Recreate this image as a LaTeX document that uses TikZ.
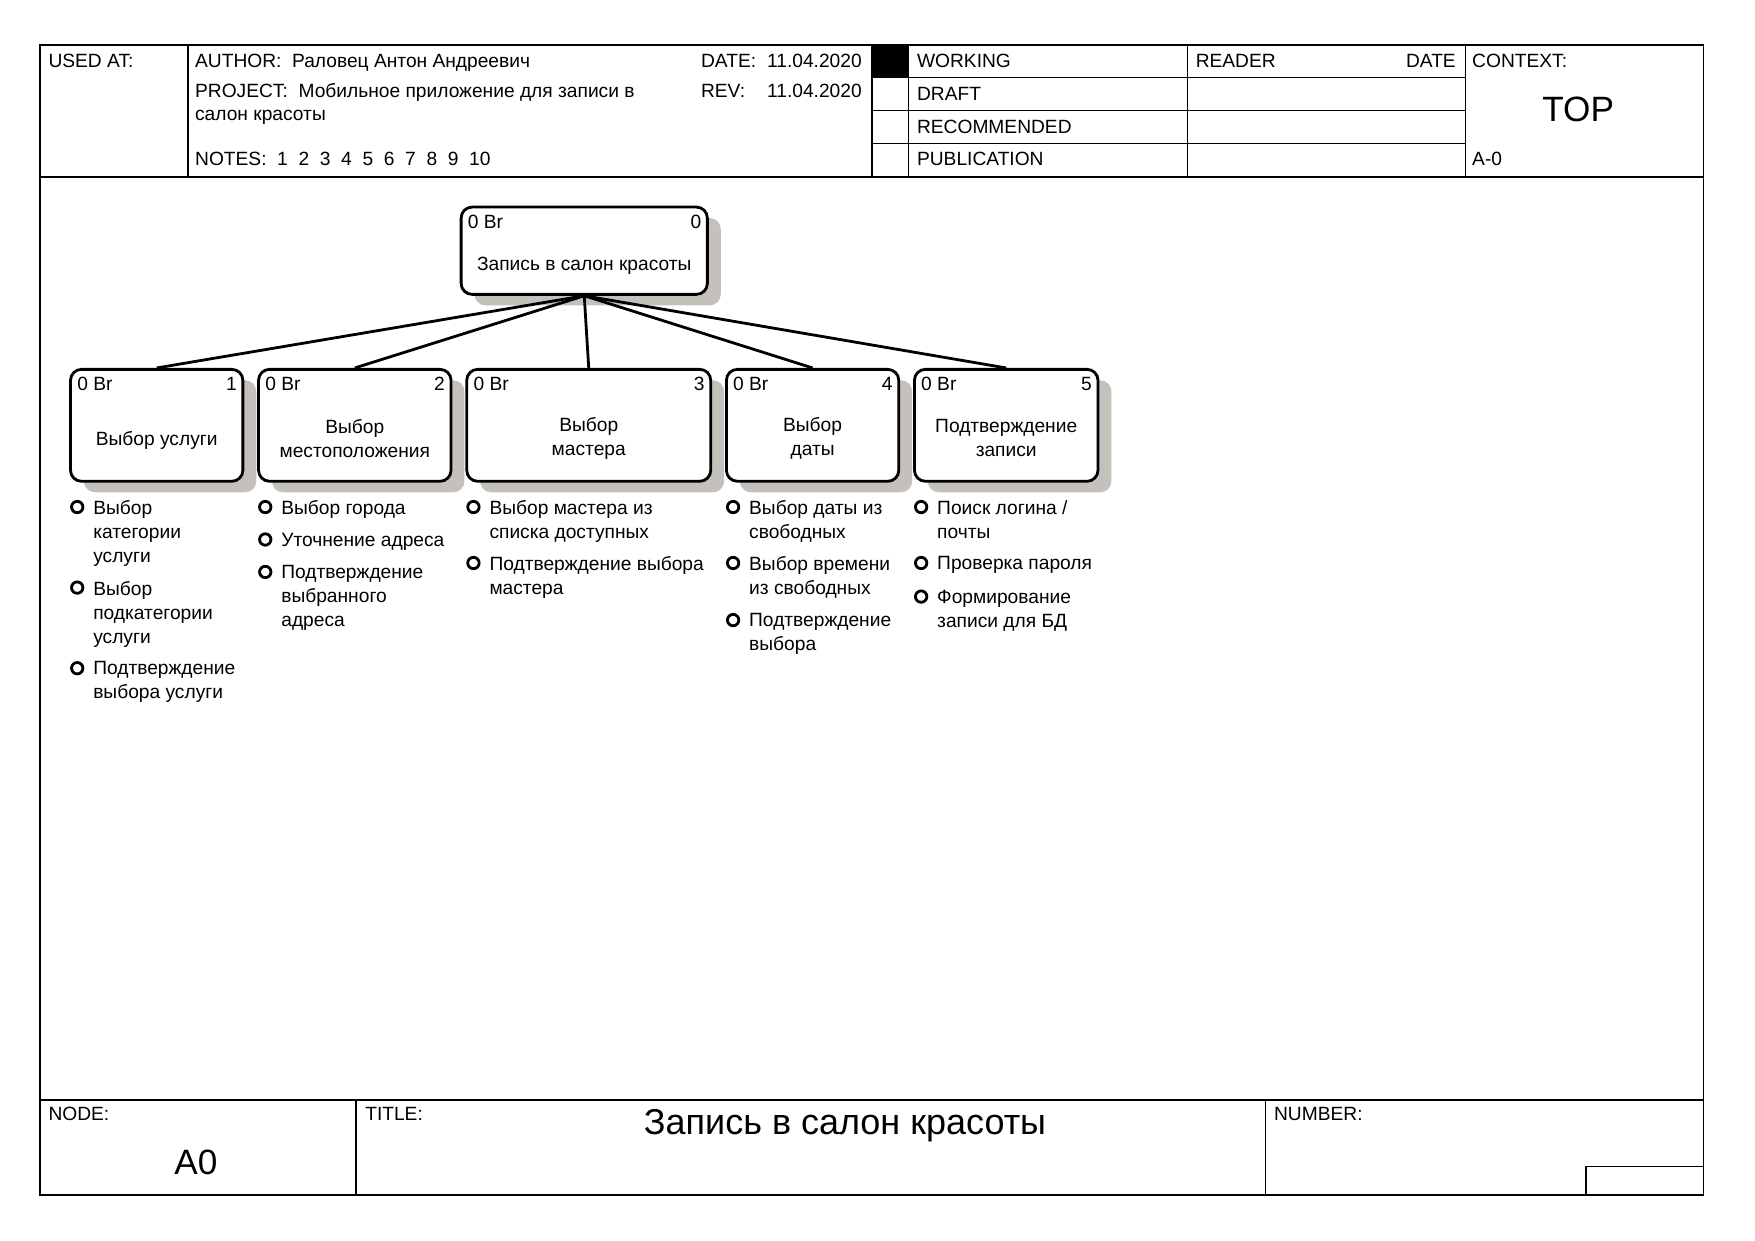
\documentclass[tikz,border=0pt]{standalone}
\usepackage{fontspec}
\setmainfont{Liberation Sans}
\usetikzlibrary{shadows}
\definecolor{shadowc}{RGB}{196,193,189}
\newcommand\itm[4]{%
  \node[dot] (#1c) at (#2,#3) {};
  \node[itemtxt] (#1) at (#2+14,#3-6.3) {#4};}
\begin{document}
\begin{tikzpicture}[x=0.56pt,y=-0.56pt,
  txt/.style={font=\fontsize{9.6}{12.04}\selectfont, inner sep=0pt, anchor=base west},
  itemtxt/.style={font=\fontsize{9.6}{12.1}\selectfont, inner sep=0pt, anchor=north west, align=left},
  big/.style={font=\fontsize{17.6}{20}\selectfont, inner sep=0pt, anchor=base},
  frame/.style={line width=0.9pt},
  thin/.style={line width=0.6pt},
  box/.style={draw, line width=1.4pt, rounded corners=5.5pt, fill=white,
    drop shadow={shadow xshift=6.7pt, shadow yshift=-5.5pt, fill=shadowc, opacity=1},
    minimum height=100*0.56pt, inner sep=0pt},
  boxlbl/.style={font=\fontsize{9.6}{12.04}\selectfont, inner sep=0pt, align=center},
  corner/.style={font=\fontsize{9.6}{12.04}\selectfont, inner sep=0pt},
  dot/.style={circle, draw, line width=1.4pt, minimum size=5.7pt, inner sep=0pt},
  link/.style={line width=1.4pt}]
\useasboundingbox (0,0) rectangle (1568,1108.7);
% ---------- frame ----------
\draw[frame] (36,40) rectangle (1522,1068);
\draw[frame] (36,158) -- (1522,158);
\draw[frame] (36,983) -- (1522,983);
\foreach \x in {168,779,812,1061,1309} \draw[thin] (\x,40) -- (\x,158);
\foreach \y in {69,99,128} \draw[thin] (779,\y) -- (1309,\y);
\fill (779,40) rectangle (812,69);
\draw[thin] (318,983) -- (318,1068);
\draw[thin] (1131,983) -- (1131,1068);
\draw[thin] (1417,1068) -- (1417,1042) -- (1522,1042);
% ---------- header texts ----------
\node[txt] (usedat) at (43,60) {USED AT:};
\node[txt] (author) at (174,60) {AUTHOR:\ \ Раловец Антон Андреевич};
\node[txt] (project) at (174,87) {PROJECT:\ \ Мобильное приложение для записи в};
\node[txt] (project2) at (174,108) {салон красоты};
\node[txt] (notes) at (174,148) {NOTES:\ \ 1\ \ 2\ \ 3\ \ 4\ \ 5\ \ 6\ \ 7\ \ 8\ \ 9\ \ 10};
\node[txt] (datel) at (626,60) {DATE:};
\node[txt] (datev) at (685,60) {11.04.2020};
\node[txt] (revl) at (626,87) {REV:};
\node[txt] (revv) at (685,87) {11.04.2020};
\node[txt] (working) at (819,60) {WORKING};
\node[txt] (draft) at (819,90) {DRAFT};
\node[txt] (recom) at (819,119) {RECOMMENDED};
\node[txt] (publ) at (819,148) {PUBLICATION};
\node[txt] (reader) at (1068,60) {READER};
\node[txt, anchor=base east] (rdate) at (1301,60) {DATE};
\node[txt] (context) at (1315,60) {CONTEXT:};
\node[big] (top) at (1410,109) {TOP};
\node[txt] (a0ctx) at (1315,148) {A-0};
% ---------- footer texts ----------
\node[txt] (nodel) at (43,1001) {NODE:};
\node[big] (nodev) at (175,1049) {A0};
\node[txt] (titlel) at (326,1001) {TITLE:};
\node[big, font=\fontsize{18}{20}\selectfont] (titlev) at (755,1014) {Запись в салон красоты};
\node[txt] (numberl) at (1138,1001) {NUMBER:};
% ---------- boxes ----------
\node[box, minimum width=220*0.56pt, minimum height=78*0.56pt] (b0) at (522,224) {};
\node[box, minimum width=154*0.56pt] (b1) at (140,380) {};
\node[box, minimum width=172*0.56pt] (b2) at (317,380) {};
\node[box, minimum width=218*0.56pt] (b3) at (526,380) {};
\node[box, minimum width=154*0.56pt] (b4) at (726,380) {};
\node[box, minimum width=164*0.56pt] (b5) at (899,380) {};
\foreach \b/\n in {b0/0,b1/1,b2/2,b3/3,b4/4,b5/5}{
  \node[corner, anchor=north west, xshift=3.9pt, yshift=-4.6pt] (\b br) at (\b.north west) {0 Br};
  \node[corner, anchor=north east, xshift=-3.6pt, yshift=-4.6pt] (\b num) at (\b.north east) {\n};
}
\node[boxlbl, yshift=-7.6pt] (b0t) at (b0.center) {Запись в салон красоты};
\node[boxlbl, yshift=-7.6pt] (b1t) at (b1.center) {Выбор услуги};
\node[boxlbl, yshift=-6.4pt] (b2t) at (b2.center) {Выбор\\местоположения};
\node[boxlbl, yshift=-6.4pt] (b3t) at (b3.center) {Выбор\\мастера};
\node[boxlbl, yshift=-6.4pt] (b4t) at (b4.center) {Выбор\\даты};
\node[boxlbl, yshift=-6.4pt] (b5t) at (b5.center) {Подтверждение\\записи};
% ---------- links ----------
\foreach \b in {b1,b2,b3,b4,b5} \draw[link] (b0.south) -- (\b.north);
% ---------- item lists ----------
\itm{i11}{69}{453}{Выбор\\категории\\услуги}
\itm{i12}{69}{525}{Выбор\\подкатегории\\услуги}
\itm{i13}{69}{597}{Подтверждение\\выбора услуги}
\itm{i21}{237}{453}{Выбор города}
\itm{i22}{237}{482}{Уточнение адреса}
\itm{i23}{237}{511}{Подтверждение\\выбранного\\адреса}
\itm{i31}{423}{453}{Выбор мастера из\\списка доступных}
\itm{i32}{423}{503}{Подтверждение выбора\\мастера}
\itm{i41}{655}{453}{Выбор даты из\\свободных}
\itm{i42}{655}{503}{Выбор времени\\из свободных}
\itm{i43}{655}{554}{Подтверждение\\выбора}
\itm{i51}{823}{453}{Поиск логина /\\почты}
\itm{i52}{823}{503}{Проверка пароля}
\itm{i53}{823}{533}{Формирование\\записи для БД}
\end{tikzpicture}
\end{document}
